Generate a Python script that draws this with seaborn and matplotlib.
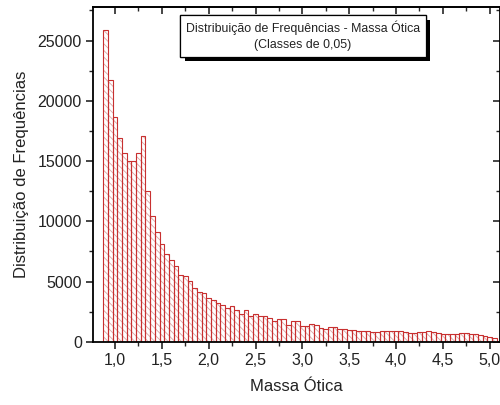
import numpy as np
import pandas as pd
import matplotlib
matplotlib.use('Agg')
import matplotlib.pyplot as plt
import matplotlib.patheffects as pe
from matplotlib.ticker import MultipleLocator, FuncFormatter
import seaborn as sns

# Classes de 0,05 (início da primeira classe e largura)
class_start = 0.875
class_width = 0.05

# Frequências (uma por classe, de 0,90 até 5,05)
frequencias = [
    25850, 21750, 18700, 16900, 15650, 15000, 15000, 15650, 17100,
    12500, 10450, 9100, 8150, 7250, 6780, 6280, 5580, 5440, 5080, 4470,
    4140, 4060, 3640, 3500, 3220, 3080, 2800, 2940, 2670, 2330,
    2610, 2170, 2330, 2110, 2110, 1970, 1690, 1890, 1890,
    1420, 1690, 1750, 1330, 1330, 1470, 1420, 1140, 1080, 1250,
    1220, 1080, 1080, 1000, 1000, 920, 920, 880, 800, 800,
    920, 880, 880, 900, 920, 800, 720, 760, 800, 800,
    860, 800, 720, 670, 610, 670, 670, 720, 720, 670,
    670, 560, 500, 440, 330,
]

x_ticks = [1.0, 1.5, 2.0, 2.5, 3.0, 3.5, 4.0, 4.5, 5.0]
y_ticks = [0, 5000, 10000, 15000, 20000, 25000]

n = len(frequencias)
class_end = class_start + class_width * n
df = pd.DataFrame({
    'massa': class_start + class_width * (np.arange(n) + 0.5),
    'freq': frequencias,
})

sns.set_style('ticks')
plt.rcParams['font.family'] = ['Liberation Sans', 'DejaVu Sans']
plt.rcParams['hatch.linewidth'] = 0.6

fig = plt.figure(figsize=(5, 4.05), dpi=100)
ax = fig.add_axes([0.186, 0.156, 0.814, 0.827])

# camada 1: hachura clara
sns.histplot(data=df, x='massa', weights='freq', binwidth=class_width,
             binrange=(class_start, class_end), element='bars', fill=True,
             color='white', alpha=1, linewidth=0.4, ax=ax)
for p in ax.patches:
    p.set_facecolor('white')
    p.set_edgecolor('#dca4a4')
    p.set_hatch('\\\\\\\\\\')
# camada 2: contorno vermelho das barras
sns.histplot(data=df, x='massa', weights='freq', binwidth=class_width,
             binrange=(class_start, class_end), element='bars', fill=False,
             color='#c83030', linewidth=0.8, ax=ax)

ax.set_xlim(0.765, 5.11)
ax.set_ylim(0, 27800)
ax.set_xticks(x_ticks)
ax.set_yticks(y_ticks)
ax.xaxis.set_minor_locator(MultipleLocator(0.25))
ax.yaxis.set_minor_locator(MultipleLocator(2500))
ax.xaxis.set_major_formatter(FuncFormatter(lambda v, p: f'{v:.1f}'.replace('.', ',')))
ax.tick_params(which='major', direction='out', length=5, width=1.2, labelsize=11.5, pad=3,
               labelcolor='#222222')
ax.tick_params(which='minor', direction='out', length=3, width=1.0)

for s in ax.spines.values():
    s.set_visible(True)
    s.set_linewidth(1.3)
    s.set_color('black')

# ticks internos no topo e na direita
top = ax.secondary_xaxis('top')
top.set_xticks(x_ticks)
top.xaxis.set_minor_locator(MultipleLocator(0.25))
top.tick_params(which='major', direction='in', length=5, width=1.2, labeltop=False)
top.tick_params(which='minor', direction='in', length=3, width=1.0)
top.spines['top'].set_linewidth(1.3)
right = ax.secondary_yaxis('right')
right.set_yticks(y_ticks)
right.yaxis.set_minor_locator(MultipleLocator(2500))
right.tick_params(which='major', direction='in', length=5, width=1.2, labelright=False)
right.tick_params(which='minor', direction='in', length=3, width=1.0)

ax.set_xlabel('Massa Ótica', fontsize=12, labelpad=8, color='#222222')
ax.set_ylabel('Distribuição de Frequências', fontsize=12, labelpad=6, color='#222222')

txt = ax.text(0.516, 0.913, 'Distribuição de Frequências - Massa Ótica\n(Classes de 0,05)',
              transform=ax.transAxes, ha='center', va='center', fontsize=8.9,
              multialignment='center', linespacing=1.4, color='#222222',
              bbox=dict(boxstyle='square,pad=0.45', facecolor='white', edgecolor='black',
                        linewidth=0.9))
fig.canvas.draw()
txt.get_bbox_patch().set_path_effects([
    pe.withSimplePatchShadow(offset=(3.5, -3.5), shadow_rgbFace='black', alpha=1),
    pe.Normal()])

fig.savefig('out.png', dpi=100)
